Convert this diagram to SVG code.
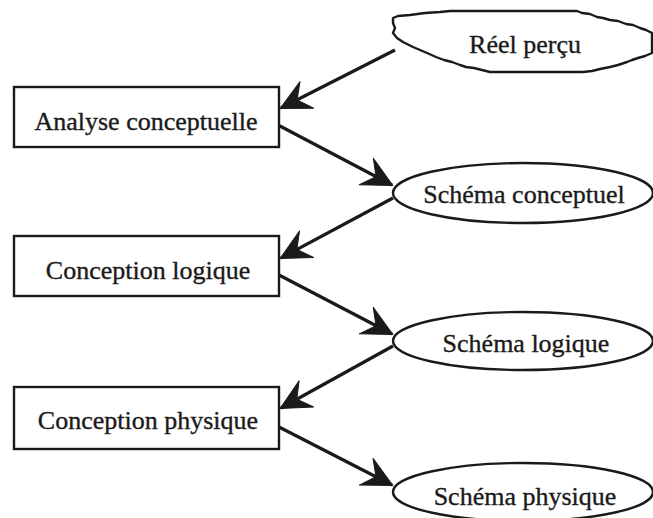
<svg xmlns="http://www.w3.org/2000/svg" width="653" height="518" viewBox="0 0 653 518">
  <defs>
    <marker id="head" markerUnits="userSpaceOnUse" viewBox="-32 -17 34 34" markerWidth="34" markerHeight="34" refX="0" refY="0" orient="auto">
      <path d="M1,0 L-29,-15 L-18,0 L-29,15 Z" fill="#1a1a1a" stroke="#1a1a1a" stroke-width="1" stroke-linejoin="round"/>
    </marker>
  </defs>
  <style>
    .box { fill: #ffffff; stroke: #1a1a1a; stroke-width: 2.4; }
    .oval { fill: #ffffff; stroke: #1a1a1a; stroke-width: 2.4; }
    .cloud { fill: #ffffff; stroke: #1a1a1a; stroke-width: 2.4; stroke-linejoin: round; }
    .label { font-family: "Liberation Serif", "Times New Roman", serif; font-size: 26px; fill: #1a1a1a; stroke: #1a1a1a; stroke-width: 0.35; text-anchor: middle; }
    .link { stroke: #1a1a1a; stroke-width: 3.2; fill: none; marker-end: url(#head); }
  </style>
  <rect width="653" height="518" fill="#ffffff"/>

  <!-- flow arrows -->
  <g id="connectors">
    <line class="link" x1="395" y1="50" x2="281" y2="108"/>
    <line class="link" x1="278" y1="125" x2="392" y2="185"/>
    <line class="link" x1="393" y1="198" x2="281" y2="258"/>
    <line class="link" x1="279" y1="275" x2="392" y2="334"/>
    <line class="link" x1="393" y1="346" x2="281" y2="408"/>
    <line class="link" x1="279" y1="427" x2="392" y2="485"/>
  </g>

  <g id="reel-percu">
    <path class="cloud" d="M393,18 L398,16 L410,15 L425,13 L440,12 L450,11 L577,11 L582,13 L590,14 L597,17 L603,18 L610,20 L618,21 L626,24 L633,25 L640,28 L646,30 L652,33 L652,53 L645,56 L638,58 L632,60 L627,62 L618,65 L610,67 L600,69 L592,71 L583,72 L490,72 L482,70 L474,68 L466,67 L460,65 L452,62 L444,60 L436,57 L427,53 L420,50 L413,47 L407,44 L403,42 L397,38 L393,33 L395,28 L393,23 Z"/>
    <text class="label" x="525" y="53">Réel perçu</text>
  </g>

  <g id="analyse-conceptuelle">
    <rect class="box" x="14" y="87" width="265" height="60"/>
    <text class="label" x="146" y="130">Analyse conceptuelle</text>
  </g>

  <g id="schema-conceptuel">
    <ellipse class="oval" cx="523" cy="193" rx="130" ry="30"/>
    <text class="label" x="524" y="203">Schéma conceptuel</text>
  </g>

  <g id="conception-logique">
    <rect class="box" x="14" y="236" width="265" height="60"/>
    <text class="label" x="148" y="279">Conception logique</text>
  </g>

  <g id="schema-logique">
    <ellipse class="oval" cx="523" cy="341" rx="130" ry="29"/>
    <text class="label" x="526" y="352">Schéma logique</text>
  </g>

  <g id="conception-physique">
    <rect class="box" x="14" y="387" width="265" height="62"/>
    <text class="label" x="148" y="429">Conception physique</text>
  </g>

  <g id="schema-physique">
    <ellipse class="oval" cx="523" cy="492" rx="130" ry="29"/>
    <text class="label" x="525" y="505">Schéma physique</text>
  </g>
</svg>
